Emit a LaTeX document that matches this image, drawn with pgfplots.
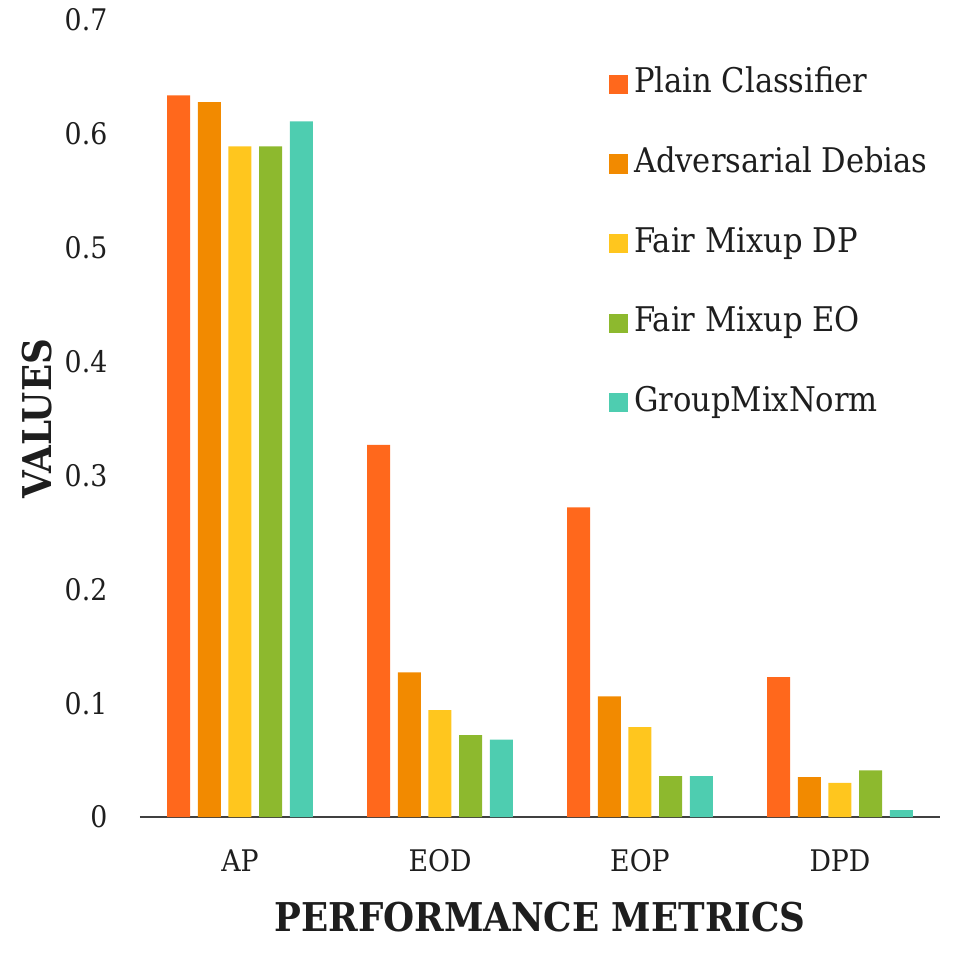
\documentclass[border=0pt]{standalone}
\usepackage{fontspec}
\setmainfont{DejaVu Serif Condensed}
\usepackage{pgfplots}
\pgfplotsset{compat=1.18}
\definecolor{cPlain}{HTML}{FF681C}
\definecolor{cAdv}{HTML}{F28A00}
\definecolor{cDP}{HTML}{FFC61E}
\definecolor{cEO}{HTML}{8DB92E}
\definecolor{cGMN}{HTML}{4ECDB0}
\definecolor{axisgray}{HTML}{404040}
\definecolor{txt}{HTML}{1E1E1E}
\begin{document}
\begin{tikzpicture}
\path[use as bounding box] (0,0) rectangle (337.8pt,337.8pt);
\begin{axis}[
  at={(49.4pt,49.4pt)}, anchor=south west,
  scale only axis, width=282.4pt, height=281.3pt,
  xmin=-0.5, xmax=3.5, ymin=0, ymax=0.7,
  ybar,
  axis x line*=bottom, axis y line*=left,
  x axis line style={-, line width=0.9pt, color=axisgray},
  y axis line style={draw=none},
  major tick length=0pt,
  xtick={0,1,2,3}, xticklabels={AP,EOD,EOP,DPD},
  ytick={0,0.1,0.2,0.3,0.4,0.5,0.6,0.7},
  yticklabels={0,0.1,0.2,0.3,0.4,0.5,0.6,0.7},
  ticklabel style={font=\fontsize{10.5}{12}\selectfont, text=txt},
  yticklabel style={xshift=-8pt},
  xticklabel style={yshift=-8pt},
  /pgf/number format/assume math mode=true,
  xlabel={PERFORMANCE METRICS},
  ylabel={VALUES},
  label style={font=\bfseries\fontsize{14}{16}\selectfont, text=txt},
  xlabel style={at={(axis description cs:0.5,-0.1255)}, anchor=center},
  ylabel style={at={(axis description cs:-0.129,0.5)}, anchor=center},
  legend image code/.code={\fill[#1] (0pt,-3.4pt) rectangle (7pt,3.4pt);},
  legend cell align=left,
  legend style={at={(axis description cs:0.585,0.9485)}, anchor=north west,
    draw=none, fill=none, inner sep=0pt, row sep=12.1pt,
    font=\fontsize{12}{14}\selectfont, text=txt,
    /tikz/every even column/.append style={column sep=1.4pt},
    nodes={text height=9pt, text depth=3pt, inner sep=2pt}},
]
\addplot[fill=cPlain, draw=none, bar width=0.115, bar shift=-0.307] coordinates {(0,0.634) (1,0.327) (2,0.272) (3,0.123)};
\addplot[fill=cAdv, draw=none, bar width=0.115, bar shift=-0.1535] coordinates {(0,0.628) (1,0.127) (2,0.106) (3,0.035)};
\addplot[fill=cDP, draw=none, bar width=0.115, bar shift=0] coordinates {(0,0.589) (1,0.094) (2,0.079) (3,0.030)};
\addplot[fill=cEO, draw=none, bar width=0.115, bar shift=0.1535] coordinates {(0,0.589) (1,0.072) (2,0.036) (3,0.041)};
\addplot[fill=cGMN, draw=none, bar width=0.115, bar shift=0.307] coordinates {(0,0.611) (1,0.068) (2,0.036) (3,0.006)};
\legend{Plain Classifier, Adversarial Debias, Fair Mixup DP, Fair Mixup EO, GroupMixNorm}
\end{axis}
\end{tikzpicture}
\end{document}
